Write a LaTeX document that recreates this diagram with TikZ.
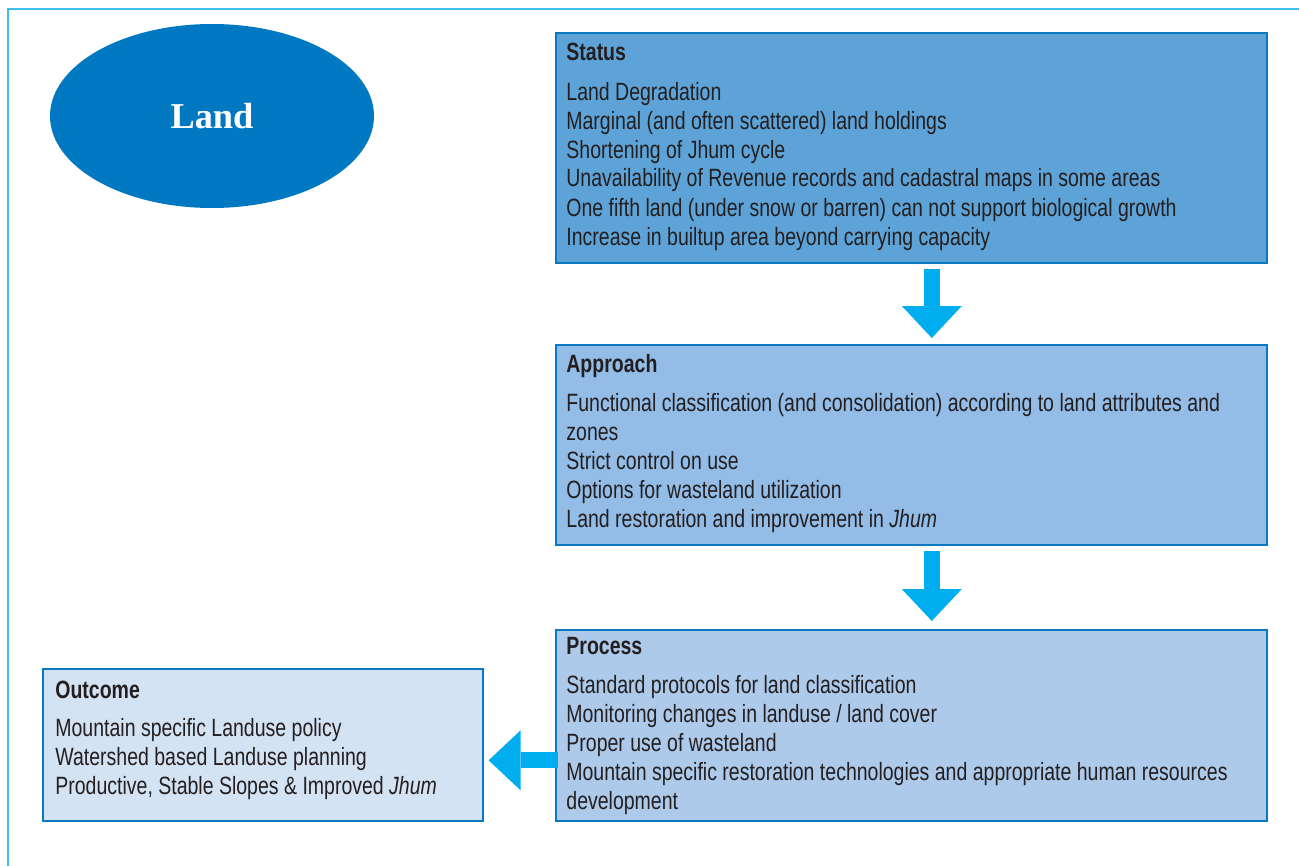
\documentclass[tikz,border=0pt]{standalone}
\usepackage{fontspec}
\setmainfont{Liberation Sans}[FakeStretch=0.78]
\newfontfamily\landfont{Liberation Serif}
\usetikzlibrary{shapes.geometric,arrows.meta}

\definecolor{framecyan}{HTML}{3BBFEE}
\definecolor{landblue}{HTML}{0079C2}
\definecolor{boxedge}{HTML}{0B78C1}
\definecolor{statusfill}{HTML}{5EA3D8}
\definecolor{approachfill}{HTML}{93BCE6}
\definecolor{processfill}{HTML}{ADCAEA}
\definecolor{outcomefill}{HTML}{D4E3F4}
\definecolor{arrowcyan}{HTML}{00AEEF}
\definecolor{ink}{HTML}{231F20}

\begin{document}
\begin{tikzpicture}[x=0.5pt, y=-0.5pt,
    box/.style={draw=boxedge, line width=0.8pt, anchor=north west,
        minimum width=355.5pt, inner sep=0pt},
    boxtitle/.style={anchor=base west, inner sep=0pt, text=ink,
        font=\fontsize{12.5}{14.5}\selectfont\bfseries},
    boxtext/.style={anchor=base west, inner sep=0pt, text=ink, align=left,
        font=\fontsize{12.5}{14.5}\selectfont},
    blockarrow/.style={draw=arrowcyan, line width=8pt,
        -{Triangle[width=30pt, length=16pt, line width=0pt]}}]
    \useasboundingbox (0,0) rectangle (1299,866);

    % Frame along the top and left edges
    \draw[framecyan, line width=1pt] (8,866) -- (8,9) -- (1299,9);

    % The theme
    \node[ellipse, fill=landblue, minimum width=162pt, minimum height=92pt,
        inner sep=0pt, text=white, font=\landfont\fontsize{18.2}{20}\selectfont\bfseries]
        (land) at (212,116) {Land};

    % The four boxes
    \node[box, fill=statusfill, minimum height=115pt] (status) at (555,32) {};
    \node[box, fill=approachfill, minimum height=100pt] (approach) at (555,344) {};
    \node[box, fill=processfill, minimum height=95.5pt] (process) at (555,629) {};
    \node[box, fill=outcomefill, minimum width=220pt, minimum height=76pt] (outcome) at (42,668) {};

    % Titles and texts of the boxes (text nodes sit on their last line)
    \node[boxtitle] (statustitle) at ([shift={(5.5pt,-14.5pt)}]status.north west) {Status};
    \node[boxtext] (statustext) at ([shift={(5.5pt,-106.5pt)}]status.north west)
        {Land Degradation\\
         Marginal (and often scattered) land holdings\\
         Shortening of Jhum cycle\\
         Unavailability of Revenue records and cadastral maps in some areas\\
         One fifth land (under snow or barren) can not support biological growth\\
         Increase in builtup area beyond carrying capacity};

    \node[boxtitle] (approachtitle) at ([shift={(5.5pt,-14pt)}]approach.north west) {Approach};
    \node[boxtext] (approachtext) at ([shift={(5.5pt,-91.5pt)}]approach.north west)
        {Functional classification (and consolidation) according to land attributes and\\
         zones\\
         Strict control on use\\
         Options for wasteland utilization\\
         Land restoration and improvement in \textit{Jhum}};

    \node[boxtitle] (processtitle) at ([shift={(5.5pt,-12.5pt)}]process.north west) {Process};
    \node[boxtext] (processtext) at ([shift={(5.5pt,-90pt)}]process.north west)
        {Standard protocols for land classification\\
         Monitoring changes in landuse / land cover\\
         Proper use of wasteland\\
         Mountain specific restoration technologies and appropriate human resources\\
         development};

    \node[boxtitle] (outcometitle) at ([shift={(6.5pt,-15pt)}]outcome.north west) {Outcome};
    \node[boxtext] (outcometext) at ([shift={(6.5pt,-63pt)}]outcome.north west)
        {Mountain specific Landuse policy\\
         Watershed based Landuse planning\\
         Productive, Stable Slopes \& Improved \textit{Jhum}};

    % Block arrows between the boxes
    \draw[blockarrow, shorten <=2.5pt, shorten >=3pt]
        ([xshift=10.25pt]status.south) -- ([xshift=10.25pt]approach.north);
    \draw[blockarrow, shorten <=2.5pt, shorten >=4pt]
        ([xshift=10.25pt]approach.south) -- ([xshift=10.25pt]process.north);
    \draw[blockarrow, shorten <=-1.5pt, shorten >=2.5pt]
        ([yshift=-17.5pt]process.west) coordinate (procarrow) -- (procarrow -| outcome.east);
\end{tikzpicture}
\end{document}
